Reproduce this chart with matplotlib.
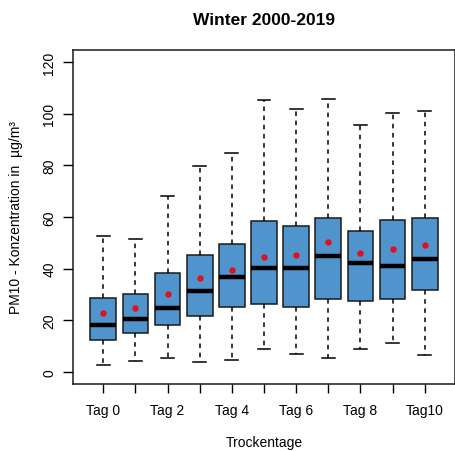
import matplotlib
matplotlib.use("Agg")
import matplotlib.pyplot as plt

plt.rcParams['font.family'] = ['Liberation Sans', 'DejaVu Sans']

# box statistics (PM10, ug/m3)
labels = ["Tag 0", "Tag 1", "Tag 2", "Tag 3", "Tag 4", "Tag 5",
          "Tag 6", "Tag 7", "Tag 8", "Tag 9", "Tag10"]
whis_lo = [2.7, 4.2, 5.4, 3.6, 4.7, 8.6, 6.8, 5.4, 8.6, 11.2, 6.3]
q1 = [12.2, 14.9, 18.1, 21.7, 25.2, 26.1, 25.1, 28.3, 27.4, 28.3, 31.7]
median = [18.1, 20.5, 24.6, 31.2, 36.6, 40.3, 40.3, 44.7, 42.0, 40.8, 43.6]
q3 = [28.4, 30.0, 38.2, 45.2, 49.4, 58.4, 56.4, 59.5, 54.6, 59.0, 59.5]
whis_hi = [52.6, 51.6, 68.3, 79.9, 84.8, 105.3, 102.1, 105.8, 95.6, 100.5, 101.0]
means = [22.8, 24.8, 30.2, 36.2, 39.4, 44.3, 45.3, 50.2, 45.9, 47.5, 49.2]

stats = []
for i in range(len(labels)):
    stats.append({"label": labels[i], "whislo": whis_lo[i], "q1": q1[i],
                  "med": median[i], "q3": q3[i], "whishi": whis_hi[i]})

pos = list(range(1, len(labels) + 1))

fig = plt.figure(figsize=(4.56, 4.52), dpi=100)
ax = fig.add_axes([73/456, 67/452, 382/456, 334/452])

ax.bxp(stats, positions=pos, widths=0.8, showfliers=False, patch_artist=True,
       boxprops=dict(facecolor="#4F94CD", edgecolor="#1a1a1a", linewidth=1.1),
       medianprops=dict(color="black", linewidth=3.2, solid_capstyle="butt"),
       whiskerprops=dict(color="black", linewidth=1.1, linestyle=(0, (3, 3))),
       capprops=dict(color="black", linewidth=1.1), capwidths=0.4)
ax.plot(pos, means, 'o', color="#e0101e", markersize=3.6, zorder=5)

ax.set_xlim(0.06, 11.94)
ax.set_ylim(-4.8, 124.8)
ax.set_yticks([0, 20, 40, 60, 80, 100, 120])
ax.set_xticks(pos)
ax.set_xticklabels(labels, fontsize=10)
for i, t in enumerate(ax.get_xticklabels()):
    if i % 2 == 1:
        t.set_visible(False)
for t in ax.get_yticklabels():
    t.set_rotation(90)
    t.set_verticalalignment("center")
ax.tick_params(axis='y', labelsize=10, length=7, width=1, pad=5)
ax.tick_params(axis='x', length=6.5, width=1, pad=7)
for s in ax.spines.values():
    s.set_linewidth(1.1)
    s.set_color("#1a1a1a")

ax.set_title("Winter 2000-2019", fontsize=12.5, fontweight="bold", pad=19)
ax.set_xlabel("Trockentage", fontsize=10, labelpad=13)
ax.set_ylabel("PM10 - Konzentration in  µg/m³", fontsize=10, labelpad=14)

fig.savefig("out.png", dpi=100)
